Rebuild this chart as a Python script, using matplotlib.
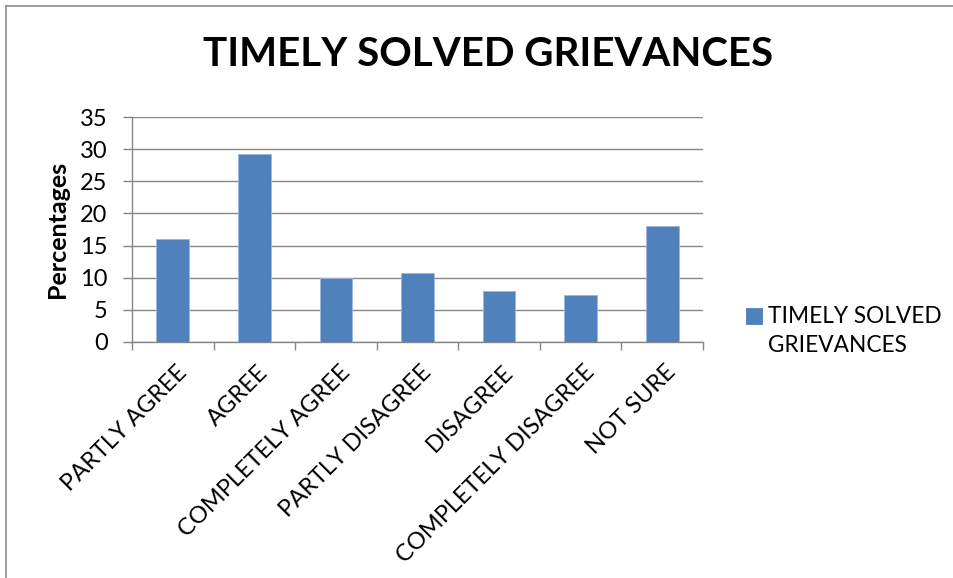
import matplotlib
matplotlib.use("Agg")
import matplotlib.pyplot as plt
import matplotlib.transforms as mtransforms
from matplotlib.patches import Rectangle
from matplotlib.legend_handler import HandlerPatch
from matplotlib.lines import Line2D

categories = ["PARTLY AGREE", "AGREE", "COMPLETELY AGREE", "PARTLY DISAGREE",
              "DISAGREE", "COMPLETELY DISAGREE", "NOT SURE"]
values = [16, 29.3, 10, 10.7, 8, 7.3, 18]
yticks = [0, 5, 10, 15, 20, 25, 30, 35]
title = "TIMELY SOLVED GRIEVANCES"
series_name = "TIMELY SOLVED\nGRIEVANCES"
ylabel = "Percentages"

plt.rcParams['font.family'] = ['Lato', 'DejaVu Sans']

W, H = 954, 578
fig = plt.figure(figsize=(W / 100, H / 100), dpi=100)
ax = fig.add_axes([132 / W, 1 - 342 / H, (703 - 132) / W, (342 - 117) / H])

grid_c = "#868686"
bar_c = "#4F81BD"

x = list(range(len(categories)))
bars = ax.bar(x, values, width=0.4, color=bar_c, edgecolor="#9bb7da",
              linewidth=0.6, zorder=3, label=series_name)

ax.set_xlim(-0.5, len(categories) - 0.5)
ax.set_ylim(0, 35)
ax.set_yticks(yticks)
ax.set_yticklabels([str(v) for v in yticks])
ax.yaxis.grid(True, color=grid_c, linewidth=1.0, zorder=0)
ax.set_axisbelow(True)

for s in ["top", "right"]:
    ax.spines[s].set_visible(False)
for s in ["left", "bottom"]:
    ax.spines[s].set_color(grid_c)
    ax.spines[s].set_linewidth(1.0)

ax.tick_params(axis="y", length=6.5, width=1.0, color=grid_c, pad=11,
               labelsize=17, labelcolor="black")
ax.set_xticks(x)
ax.set_xticks([i - 0.5 for i in range(len(categories) + 1)], minor=True)
ax.tick_params(axis="x", which="major", length=0, pad=14)
ax.tick_params(axis="x", which="minor", length=6, width=1.0, color=grid_c)
ax.set_xticklabels(categories, rotation=45, ha="right", va="top",
                   rotation_mode="anchor", fontsize=17)
offset = mtransforms.ScaledTranslation(3 / 100, 0, fig.dpi_scale_trans)
for lab in ax.get_xticklabels():
    lab.set_transform(lab.get_transform() + offset)

ax.set_ylabel(ylabel, fontsize=18, fontweight="bold")
ax.yaxis.set_label_coords((69 - 132) / (703 - 132), 0.5)

fig.text(488 / W, 1 - 55 / H, title, fontsize=29, fontweight="bold",
         ha="center", va="center")

# legend: square aligned with first line
def make_patch(legend, orig_handle, xdescent, ydescent, width, height, fontsize):
    return Rectangle((-xdescent, -ydescent + 0.69 * fontsize), width, height)

leg = fig.legend(handles=[bars[0]], labels=[series_name], loc="upper left",
                 bbox_to_anchor=(746 / W, 1 - 306 / H), frameon=False,
                 fontsize=16.3, handlelength=0.71, handleheight=0.71,
                 handletextpad=0.27, borderpad=0, borderaxespad=0,
                 handler_map={Rectangle: HandlerPatch(patch_func=make_patch)},
                 labelspacing=0.2)
for t in leg.get_texts():
    t.set_linespacing(1.45)
for h in leg.legend_handles:
    h.set_facecolor(bar_c)
    h.set_edgecolor(bar_c)

# outer chart border (top and left visible)
fig.add_artist(Line2D([6 / W, 6 / W], [0, 1 - 6 / H], transform=fig.transFigure,
                      color="#8c8c8c", linewidth=1.2))
fig.add_artist(Line2D([6 / W, 1], [1 - 6 / H, 1 - 6 / H], transform=fig.transFigure,
                      color="#8c8c8c", linewidth=1.2))

fig.savefig("out.png", dpi=100)
